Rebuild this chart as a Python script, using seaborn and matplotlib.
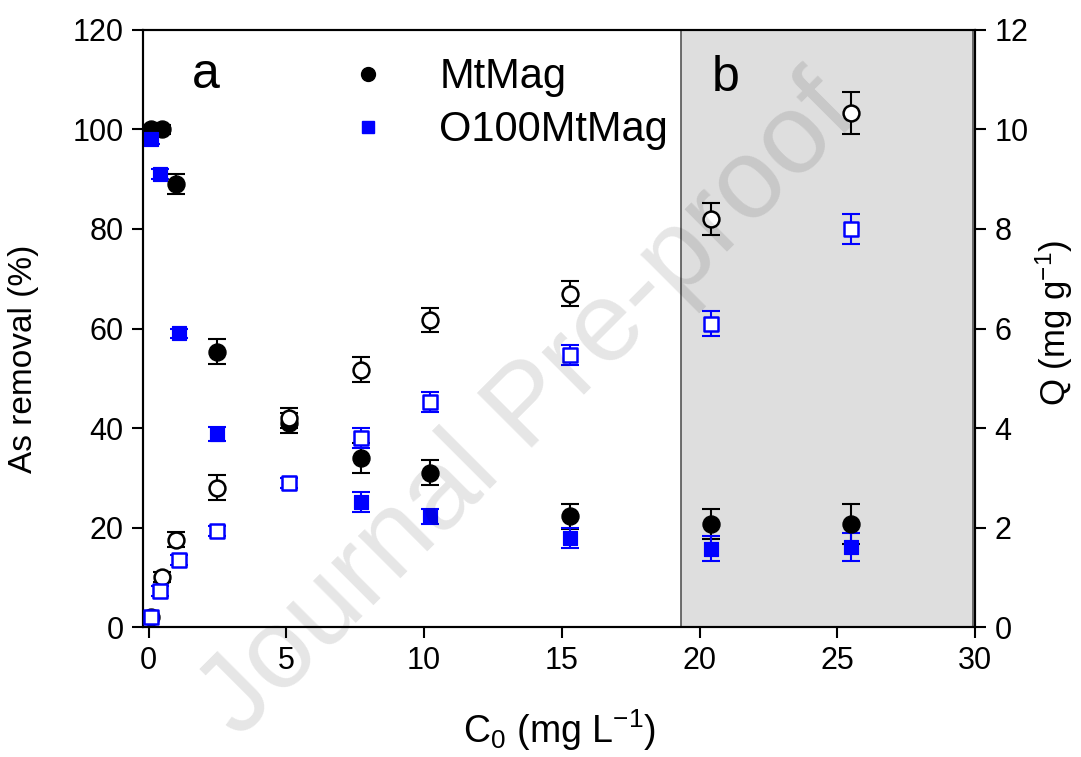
import numpy as np
import pandas as pd
import matplotlib
matplotlib.use('Agg')
import matplotlib.pyplot as plt
import seaborn as sns
from matplotlib.lines import Line2D

# concentrations (mg/L)
c0 = [0.1, 0.5, 1.0, 2.5, 5.1, 7.7, 10.2, 15.3, 20.4, 25.5]
c0_o100 = [0.1, 0.4, 1.1, 2.5, 5.1, 7.7, 10.2, 15.3, 20.4, 25.5]

# As removal (%) - left axis
rem_mtmag = [100, 100, 89, 55.3, 41, 34, 31, 22.3, 20.7, 20.7]
rem_mtmag_err = [1, 1, 2, 2.5, 2, 3, 2.5, 2.5, 3, 4]
rem_o100 = [98, 91, 59, 38.8, 29, 25.1, 22.3, 17.9, 15.7, 16.1]
rem_o100_err = [1, 1, 1, 1.5, 1, 2, 1.5, 2, 2.5, 2.8]

# Q (mg/g) - right axis
q_mtmag = [0.2, 1.0, 1.75, 2.8, 4.2, 5.17, 6.17, 6.7, 8.2, 10.33]
q_mtmag_err = [0.05, 0.1, 0.15, 0.25, 0.2, 0.25, 0.25, 0.25, 0.33, 0.43]
q_o100 = [0.2, 0.72, 1.35, 1.93, 2.9, 3.8, 4.52, 5.47, 6.1, 8.0]
q_o100_err = [0.05, 0.1, 0.1, 0.1, 0.1, 0.2, 0.2, 0.2, 0.25, 0.3]

sns.set_style('ticks')
plt.rcParams['font.family'] = ['Liberation Sans', 'DejaVu Sans']
plt.rcParams['mathtext.fontset'] = 'custom'
plt.rcParams['mathtext.rm'] = 'Liberation Sans'
plt.rcParams['mathtext.it'] = 'Liberation Sans'
plt.rcParams['mathtext.default'] = 'regular'
for k in ['text.color', 'axes.labelcolor', 'xtick.color', 'ytick.color', 'axes.edgecolor']:
    plt.rcParams[k] = 'black'

fig = plt.figure(figsize=(10.81, 7.57), dpi=100)
ax = fig.add_axes([0.1323, 0.1717, 0.7697, 0.7887])
ax2 = ax.twinx()

BLUE = '#0000ff'

# shaded region b
ax.axvspan(19.33, 29.93, facecolor='#dedede', edgecolor='#555555', lw=1.2, zorder=0)

# error bars
eb = dict(fmt='none', elinewidth=1.5, capsize=6.5, capthick=1.5, zorder=2)
ax.errorbar(c0, rem_mtmag, yerr=rem_mtmag_err, ecolor='black', **eb)
ax.errorbar(c0_o100, rem_o100, yerr=rem_o100_err, ecolor=BLUE, **eb)
ax2.errorbar(c0, q_mtmag, yerr=q_mtmag_err, ecolor='black', **eb)
ax2.errorbar(c0_o100, q_o100, yerr=q_o100_err, ecolor=BLUE, **eb)

# markers
sns.scatterplot(x=c0, y=rem_mtmag, ax=ax, marker='o', s=150, color='black', edgecolor='black', zorder=3)
sns.scatterplot(x=c0_o100, y=rem_o100, ax=ax, marker='s', s=110, color=BLUE, edgecolor=BLUE, zorder=3)
sns.scatterplot(x=c0, y=q_mtmag, ax=ax2, marker='o', s=130, facecolor='white', edgecolor='black', linewidth=1.8, zorder=3)
sns.scatterplot(x=c0_o100, y=q_o100, ax=ax2, marker='s', s=110, facecolor='white', edgecolor=BLUE, linewidth=1.8, zorder=3)

ax.set_xlim(-0.2, 30)
ax.set_ylim(0, 120)
ax2.set_ylim(0, 12)
ax.set_xticks([0, 5, 10, 15, 20, 25, 30])
ax.set_yticks(range(0, 121, 20))
ax2.set_yticks(range(0, 13, 2))

for a in (ax, ax2):
    for s in a.spines.values():
        s.set_linewidth(1.5)
        s.set_color('black')
    a.tick_params(labelsize=22, width=1.5, length=8, direction='out', pad=6, colors='black')

ax.set_xlabel('C$_0$ (mg L$^{-1}$)', fontsize=27)
ax.set_ylabel('As removal (%)', fontsize=24)
ax2.set_ylabel('Q (mg g$^{-1}$)', fontsize=25, rotation=90)
ax.xaxis.set_label_coords(0.5, -0.135)
ax.yaxis.set_label_coords(-0.125, 0.45)
ax2.yaxis.set_label_coords(1.07, 0.51)

ax.text(0.075, 0.925, 'a', transform=ax.transAxes, fontsize=36, ha='center', va='center')
ax.text(0.70, 0.92, 'b', transform=ax.transAxes, fontsize=36, ha='center', va='center')

handles = [Line2D([], [], ls='none', marker='o', color='black', markersize=10),
           Line2D([], [], ls='none', marker='s', color=BLUE, markersize=9)]
ax.legend(handles, ['MtMag', 'O100MtMag'], loc='upper left', bbox_to_anchor=(0.245, 0.954),
          frameon=False, fontsize=30, handletextpad=1.22, labelspacing=0.31, handlelength=1.0,
          borderpad=0, borderaxespad=0)

fig.text(0.49, 0.46, 'Journal Pre-proof', fontsize=82, rotation=45, ha='center', va='center',
         color='black', alpha=0.1, zorder=10)

fig.savefig('out.png', dpi=100)
